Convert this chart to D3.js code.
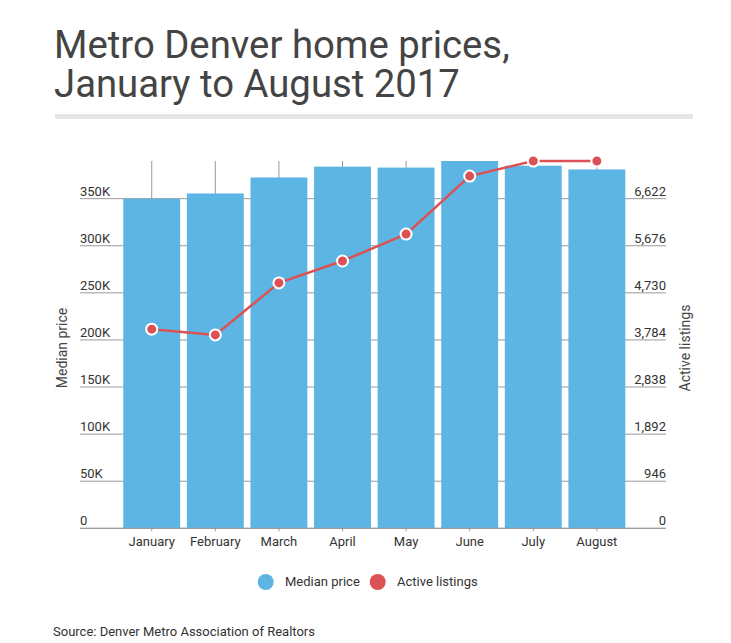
<!DOCTYPE html>
<html>
<head>
<meta charset="utf-8">
<script src="https://cdn.jsdelivr.net/npm/d3@7"></script>
<style>
  body { margin: 0; background: #fff; }
  svg text { font-family: Roboto, "Noto Sans", sans-serif; }
</style>
</head>
<body>
<svg id="board" width="731" height="643"></svg>
<script>
// data
var months = ["January", "February", "March", "April", "May", "June", "July", "August"];
var medianPrice = [350000, 355500, 372500, 384000, 383000, 390000, 385000, 381000];
var activeListings = [4000, 3885, 4930, 5370, 5910, 7075, 7378, 7378];
var priceTicks = [0, 50000, 100000, 150000, 200000, 250000, 300000, 350000];
var listingTicks = [0, 946, 1892, 2838, 3784, 4730, 5676, 6622];
var titleLines = ["Metro Denver home prices,", "January to August 2017"];

var board = d3.select("#board");

var plotLeft = 80, plotRight = 666, plotTop = 161, plotBottom = 528.3;

var x = d3.scaleBand()
  .domain(months)
  .range([120.1, 628.5])
  .paddingInner(0.105)
  .paddingOuter(0.05);

var yPrice = d3.scaleLinear().domain([0, 390000]).range([plotBottom, plotTop]);
var yList = d3.scaleLinear().domain([0, 390000 * 946 / 50000]).range([plotBottom, plotTop]);

function cx(d){ return x(d) + x.bandwidth()/2; }

// title
board.append("g").selectAll("text")
  .data(titleLines)
  .enter().append("text")
  .attr("x", 54)
  .attr("y", function(d, i){ return 58.3 + i * 38.4; })
  .attr("fill", "#444")
  .style("font-size", "38.3px")
  .text(function(d){ return d; });

board.append("rect")
  .attr("x", 55).attr("y", 114)
  .attr("width", 638).attr("height", 5)
  .attr("fill", "#e6e6e6");

// horizontal grid
board.append("g").selectAll("line")
  .data(priceTicks)
  .enter().append("line")
  .attr("x1", plotLeft).attr("x2", plotRight)
  .attr("y1", function(d){ return yPrice(d); })
  .attr("y2", function(d){ return yPrice(d); })
  .attr("stroke", "#999")
  .attr("stroke-width", 1);

// vertical grid at category centres
board.append("g").selectAll("line")
  .data(months)
  .enter().append("line")
  .attr("x1", cx)
  .attr("x2", cx)
  .attr("y1", plotTop).attr("y2", plotBottom + 3)
  .attr("stroke", "#999")
  .attr("stroke-width", 1);

// left tick labels
board.append("g").selectAll("text")
  .data(priceTicks)
  .enter().append("text")
  .attr("x", plotLeft)
  .attr("y", function(d){ return yPrice(d) - 3; })
  .attr("fill", "#333")
  .style("font-size", "13px")
  .text(function(d){ return d === 0 ? "0" : (d / 1000) + "K"; });

// right tick labels
board.append("g").selectAll("text")
  .data(listingTicks)
  .enter().append("text")
  .attr("x", plotRight)
  .attr("y", function(d){ return yList(d) - 3; })
  .attr("text-anchor", "end")
  .attr("fill", "#333")
  .style("font-size", "13px")
  .text(function(d){ return d3.format(",")(d); });

// bars
board.append("g").selectAll("rect")
  .data(months)
  .enter().append("rect")
  .attr("x", function(d){ return x(d); })
  .attr("width", x.bandwidth())
  .attr("y", function(d, i){ return yPrice(medianPrice[i]); })
  .attr("height", function(d, i){ return plotBottom - yPrice(medianPrice[i]); })
  .attr("fill", "#5db5e3");

// baseline
board.append("line")
  .attr("x1", plotLeft).attr("x2", plotRight)
  .attr("y1", plotBottom).attr("y2", plotBottom)
  .attr("stroke", "#999");

// listings line
var line = d3.line()
  .x(function(d, i){ return cx(months[i]); })
  .y(function(d){ return yList(d); });

board.append("path")
  .datum(activeListings)
  .attr("d", line)
  .attr("fill", "none")
  .attr("stroke", "#dc5254")
  .attr("stroke-width", 2.5);

board.append("g").selectAll("circle")
  .data(activeListings)
  .enter().append("circle")
  .attr("cx", function(d, i){ return cx(months[i]); })
  .attr("cy", function(d){ return yList(d); })
  .attr("r", 5.5)
  .attr("fill", "#dc5254")
  .attr("stroke", "#fff")
  .attr("stroke-width", 2);

// month labels
board.append("g").selectAll("text")
  .data(months)
  .enter().append("text")
  .attr("x", cx)
  .attr("y", 546)
  .attr("text-anchor", "middle")
  .attr("fill", "#333")
  .style("font-size", "13px")
  .text(function(d){ return d; });

// axis titles
board.append("text")
  .attr("transform", "translate(66.5,348) rotate(-90)")
  .attr("text-anchor", "middle")
  .attr("fill", "#444")
  .style("font-size", "14px")
  .text("Median price");

board.append("text")
  .attr("transform", "translate(690,348) rotate(-90)")
  .attr("text-anchor", "middle")
  .attr("fill", "#444")
  .style("font-size", "14px")
  .text("Active listings");

// legend
var legend = [
  { name: "Median price", color: "#5db5e3", cx: 265.7 },
  { name: "Active listings", color: "#dc5254", cx: 377.7 }
];
var lg = board.append("g").selectAll("g")
  .data(legend)
  .enter().append("g");
lg.append("circle")
  .attr("cx", function(d){ return d.cx; })
  .attr("cy", 582)
  .attr("r", 8)
  .attr("fill", function(d){ return d.color; });
lg.append("text")
  .attr("x", function(d){ return d.cx + 19.3; })
  .attr("y", 586)
  .attr("fill", "#333")
  .style("font-size", "13px")
  .text(function(d){ return d.name; });

// source
board.append("text")
  .attr("x", 53)
  .attr("y", 636)
  .attr("fill", "#333")
  .style("font-size", "13px")
  .text("Source: Denver Metro Association of Realtors");
</script>
</body>
</html>
